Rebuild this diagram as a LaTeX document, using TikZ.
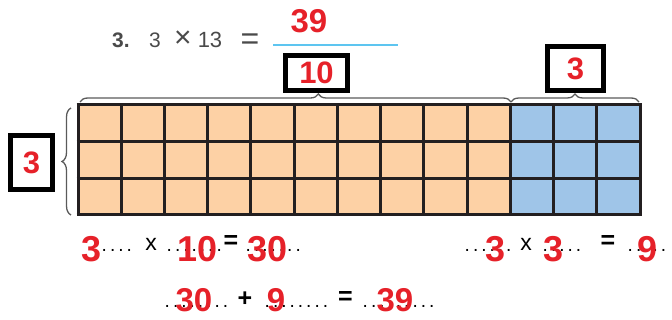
\documentclass[tikz,border=0pt]{standalone}
\usepackage{fontspec}
\setmainfont{Liberation Sans}
\usetikzlibrary{decorations.pathreplacing}
\definecolor{redn}{HTML}{E62129}
\definecolor{peach}{HTML}{FDD1A5}
\definecolor{skyb}{HTML}{9FC5E8}
\definecolor{gridc}{HTML}{231F20}
\definecolor{braceg}{HTML}{5A5A5A}
\definecolor{lineb}{HTML}{5DC5F0}
\definecolor{titleg}{HTML}{4A4A4A}
\newcommand{\dotrow}[1]{\foreach \k in {1,...,#1}{\makebox[8.3pt][c]{.}}}
\tikzset{
  rednum/.style={text=redn, font=\fontsize{#1}{#1}\selectfont\bfseries, inner sep=0pt},
  numbox/.style={draw=black, line width=5pt, fill=white, text=redn, font=\fontsize{31}{31}\selectfont\bfseries, inner sep=0pt},
  blk/.style={text=black, font=\fontsize{19}{19}\selectfont, inner sep=0pt},
  blkx/.style={text=black, font=\fontsize{23}{23}\selectfont, inner sep=0pt},
  blkb/.style={text=black, font=\fontsize{25}{25}\selectfont\bfseries, inner sep=0pt},
  ttl/.style={text=titleg, font=\fontsize{21}{21}\selectfont, inner sep=0pt},
  bracestyle/.style={draw=braceg, line width=1.3pt, decorate, decoration={brace, amplitude=#1}},
}
\begin{document}
\begin{tikzpicture}[x=1pt, y=-1pt]
\useasboundingbox (0,0) rectangle (672,320);
% title
\node[ttl, font=\fontsize{21}{21}\selectfont\bfseries] (qn) at (121,40) {3.};
\node[ttl] (ta) at (155,40) {3};
\node[ttl, font=\fontsize{30}{30}\selectfont] (tx) at (183,39) {×};
\node[ttl, font=\fontsize{22}{22}\selectfont] (tb) at (210,40) {13};
\node[ttl, font=\fontsize{32}{32}\selectfont] (teq) at (250,42) {=};
\coordinate (la) at (273,45);
\coordinate (lb) at (398,45);
\draw[lineb, line width=1.2pt] (la) -- (lb);
\node[rednum=33] (ans) at (309,21) {39};
% grid
\fill[peach] (78,105) rectangle (511,215);
\fill[skyb] (511,105) rectangle (640,215);
\foreach \i in {0,...,13} {
  \draw[gridc, line width=3pt] ({78+\i*562/13},105) -- ({78+\i*562/13},215);
}
\foreach \j in {0,...,3} {
  \draw[gridc, line width=3pt] (76.5,{105+\j*110/3}) -- (641.5,{105+\j*110/3});
}
% braces
\coordinate (b1a) at (80,102);
\coordinate (b1b) at (511,102);
\coordinate (b2b) at (639,102);
\coordinate (b3a) at (71,215);
\coordinate (b3b) at (71,108);
\draw[bracestyle=8pt, decoration={aspect=0.553}] (b1a) -- (b1b);
\draw[bracestyle=8pt] (b1b) -- (b2b);
\draw[bracestyle=9pt] (b3a) -- (b3b);
% boxes
\node[numbox, minimum width=62pt, minimum height=35pt] (ten) at (316.5,73) {10};
\node[numbox, minimum width=56pt, minimum height=44pt] (three) at (575.5,68.5) {3};
\node[numbox, minimum width=42pt, minimum height=54pt] (left) at (31.5,162.5) {3};
% row 1 black text
\node[blk, anchor=base west] (d1) at (100,252) {\dotrow{4}};
\node[blkx] (x1) at (151,244) {x};
\node[blk, anchor=base west] (d2) at (165,252) {\dotrow{7}};
\node[blkb] (e1) at (231,242) {=};
\node[blk, anchor=base west] (d3) at (244,252) {\dotrow{7}};
\node[blk, anchor=base west] (d4) at (463,252) {\dotrow{6}};
\node[blkx] (x2) at (526,244) {x};
\node[blk, anchor=base west] (d5) at (541,252) {\dotrow{5}};
\node[blkb] (e2) at (608,242) {=};
\node[blk, anchor=base west] (d6) at (626,252) {\dotrow{5}};
% row 1 red
\node[rednum=36, anchor=base] (r1) at (91.5,262) {3};
\node[rednum=36, anchor=base] (r2) at (198,262) {10};
\node[rednum=36, anchor=base] (r3) at (267.5,262) {30};
\node[rednum=36, anchor=base] (r4) at (496,262) {3};
\node[rednum=36, anchor=base] (r5) at (554,262) {3};
\node[rednum=36, anchor=base] (r6) at (648,262) {9};
% row 2 black
\node[blk, anchor=base west] (d7) at (163,308) {\dotrow{8}};
\node[blkb] (p1) at (245,299) {+};
\node[blk, anchor=base west] (d8) at (263,308) {\dotrow{8}};
\node[blkb] (e3) at (345.5,298) {=};
\node[blk, anchor=base west] (d9) at (361,308) {\dotrow{9}};
% row 2 red
\node[rednum=33, anchor=base] (s1) at (194,312) {30};
\node[rednum=33, anchor=base] (s2) at (276,312) {9};
\node[rednum=33, anchor=base] (s3) at (395,312) {39};
\end{tikzpicture}
\end{document}
